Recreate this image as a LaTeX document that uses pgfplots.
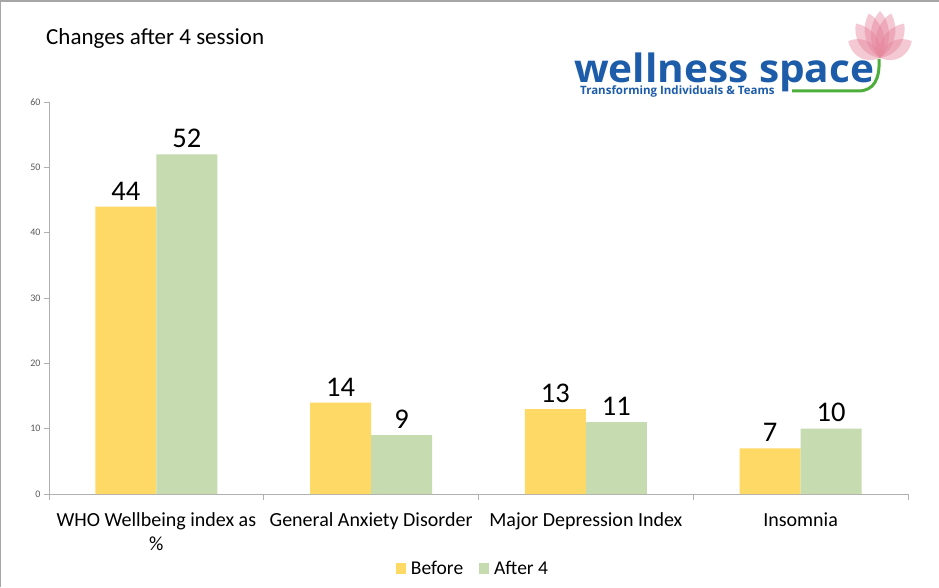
\documentclass[border=0pt]{standalone}
\usepackage{pgfplots}
\pgfplotsset{compat=1.18}
\usepackage{fontspec}
\setmainfont{Carlito}
\newfontfamily\logofont{Open Sans}
\definecolor{before}{HTML}{FFD966}
\definecolor{after}{HTML}{C6DBB0}
\definecolor{axisgray}{HTML}{B0B0B0}
\definecolor{ticktext}{HTML}{595959}
\definecolor{logoblue}{HTML}{1D5CA8}
\definecolor{logogreen}{HTML}{4DAE3B}
\definecolor{lotus}{HTML}{E57F97}

\begin{document}
\begin{tikzpicture}[x=1pt,y=1pt]
\useasboundingbox (0,0) rectangle (939,587);
\fill[white] (0,0) rectangle (939,587);
\draw[gray!70, line width=2pt] (0,0) -- (0,586) -- (939,586);

\node[anchor=base west, font=\fontsize{23}{27}\selectfont, inner sep=0] at (46,542) {Changes after 4 session};

\begin{axis}[
  at={(49pt,93pt)}, anchor=south west,
  width=859pt, height=392pt, scale only axis,
  xmin=-0.5, xmax=3.5, ymin=0, ymax=60,
  ytick={0,10,...,60},
  xtick={0,1,2,3},
  xticklabels={{WHO Wellbeing index as\\\%},{General Anxiety Disorder},{Major Depression Index},{Insomnia}},
  minor xtick={-0.5,0.5,1.5,2.5,3.5},
  axis x line*=bottom, axis y line*=left,
  axis line style={axisgray, line width=1pt},
  tick align=outside,
  major x tick style={draw=none},
  minor x tick style={axisgray, line width=1pt},
  y tick style={axisgray, line width=1pt},
  minor tick length=6pt, major tick length=5pt,
  /pgf/number format/assume math mode=true,
  xticklabel style={font=\fontsize{20}{24}\selectfont, align=center, text=black, yshift=-10pt},
  yticklabel style={font=\fontsize{10}{11}\selectfont, text=ticktext},
  ybar=0pt, bar width=61pt,
  nodes near coords,
  nodes near coords style={font=\fontsize{28.5}{32}\selectfont, text=black, yshift=3pt},
  legend style={at={(0.4936,-0.189)}, anchor=center, draw=none, fill=none,
    legend columns=2, font=\fontsize{19.5}{23}\selectfont,
    /tikz/every odd column/.append style={column sep=3pt},
    /tikz/every even column/.append style={column sep=14pt}},
  legend image code/.code={\fill[#1] (0pt,-5.5pt) rectangle (10pt,5.5pt);},
]
\addplot[fill=before, draw=none] coordinates {(0,44) (1,14) (2,13) (3,7)};
\addplot[fill=after, draw=none] coordinates {(0,52) (1,9) (2,11) (3,10)};
\legend{Before, After 4}
\end{axis}

% logo
\foreach \a/\l in {-62/36, 62/36, -35/42, 35/42, -14/46, 14/46, 0/47}{
  \begin{scope}[shift={(880,529)}, rotate=\a]
    \fill[lotus, opacity=0.42] (0,0) .. controls (-15,0.35*\l) and (-9,0.8*\l) .. (0,\l)
      .. controls (9,0.8*\l) and (15,0.35*\l) .. (0,0);
  \end{scope}
}
\draw[logogreen, line width=3pt] (792,496) -- (858,496) .. controls (874,496) and (880,508) .. (879,528);
\node[anchor=base west, inner sep=0, text=logoblue, font=\logofont\bfseries\fontsize{39}{40}\selectfont] at (574,504) {\smash{\scalebox{1.04}[1]{wellness space}}};
\node[anchor=base west, inner sep=0, text=logoblue, font=\logofont\bfseries\fontsize{11.5}{13}\selectfont] at (580,492.5) {Transforming Individuals \& Teams};
\end{tikzpicture}
\end{document}
